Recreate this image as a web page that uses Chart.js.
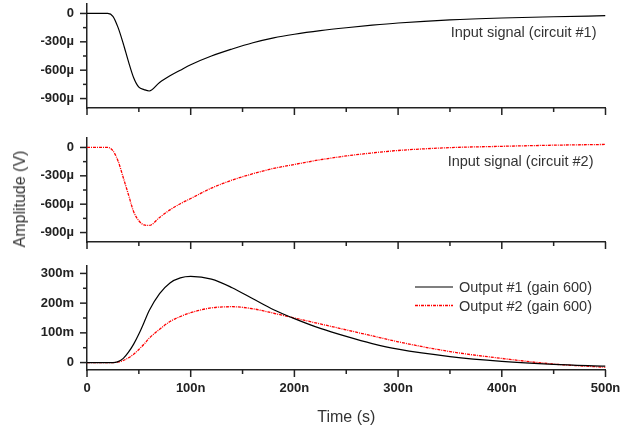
<!DOCTYPE html>
<html>
<head>
<meta charset="utf-8">
<script src="https://cdn.jsdelivr.net/npm/chart.js@4.4.1/dist/chart.umd.min.js"></script>
<style>
  html, body { margin: 0; padding: 0; background: #fff; }
  body { width: 620px; height: 428px; position: relative; overflow: hidden; font-family: 'Liberation Sans', Arial, sans-serif; }
  .panel { position: absolute; left: 0; width: 620px; }
  #p1 { top: 0; height: 120px; }
  #p2 { top: 134px; height: 120px; }
  #p3 { top: 262px; height: 166px; }
  #ylabel { position: absolute; left: 20px; top: 199px; transform: translate(-50%, -50%) rotate(-90deg); font-size: 16px; color: #333; white-space: nowrap; }
</style>
</head>
<body>
<div class="panel" id="p1"><canvas id="c1"></canvas></div>
<div class="panel" id="p2"><canvas id="c2"></canvas></div>
<div class="panel" id="p3"><canvas id="c3"></canvas></div>
<div id="ylabel">Amplitude (V)</div>
<script>
// time in ns, inputs in µV, outputs in mV
const timeNs  = [0, 10, 20, 25, 30, 35, 40, 45, 50, 55, 60, 70, 80, 90, 100, 120, 140, 160, 180, 200, 225, 250, 275, 300, 350, 400, 450, 500];
const input1  = [0, 0, 0, -30, -150, -320, -510, -680, -780, -805, -820, -730, -660, -600, -542, -450, -376, -310, -258, -220, -182, -151, -124, -101, -68, -48, -35, -24];
const input2  = [0, 0, 0, -35, -145, -320, -500, -680, -775, -820, -825, -740, -660, -595, -540, -430, -345, -278, -222, -180, -130, -90, -58, -32, -2, 12, 24, 32];
const output1 = [0, 0, 0, 0, 3, 14, 35, 62, 96, 135, 175, 232, 268, 285, 290, 281, 252, 215, 178, 148, 115, 88, 64, 45, 20, 4, -6, -12];
const output2 = [0, 0, 0, 0, 2, 7, 16, 28, 44, 62, 82, 112, 138, 155, 168, 184, 188, 181, 166, 150, 130, 110, 90, 70, 37, 14, -5, -16];

const timeTicks   = [0, 50, 100, 150, 200, 250, 300, 350, 400, 450, 500];
const inputTicks  = [-900, -750, -600, -450, -300, -150, 0];
const outputTicks = [0, 50, 100, 150, 200, 250, 300];

const FONT = "'Liberation Sans', Arial, sans-serif";
const INK = '#222';

function pts(ys) {
    return timeNs.map((t, i) => ({ x: t, y: ys[i] }));
}

function fmt(v, unit) {
    return v === 0 ? '0' : v + unit;
}

// tick marks: long for labelled ticks, short for the in-between ones
const tickMarks = {
    id: 'tickMarks',
    afterDraw(chart) {
        const ctx = chart.ctx;
        ctx.save();
        ctx.strokeStyle = INK;
        ctx.lineWidth = 1.5;
        Object.values(chart.scales).forEach(s => {
            s.ticks.forEach(t => {
                const len = t.major ? 7 : 4;
                const p = s.getPixelForValue(t.value);
                ctx.beginPath();
                if (s.isHorizontal()) {
                    ctx.moveTo(p, s.top);
                    ctx.lineTo(p, s.top + len);
                } else {
                    ctx.moveTo(s.right, p);
                    ctx.lineTo(s.right - len, p);
                }
                ctx.stroke();
            });
        });
        ctx.restore();
    }
};

const note = {
    id: 'note',
    afterDraw(chart, args, opts) {
        if (!opts.text) return;
        const ctx = chart.ctx, a = chart.chartArea;
        ctx.save();
        ctx.font = '14.5px ' + FONT;
        ctx.fillStyle = '#333';
        ctx.textAlign = 'right';
        ctx.textBaseline = 'middle';
        ctx.fillText(opts.text, a.right - opts.dx, a.top + opts.dy);
        ctx.restore();
    }
};

const lineLegend = {
    id: 'lineLegend',
    afterDraw(chart, args, opts) {
        if (!opts.show) return;
        const ctx = chart.ctx, a = chart.chartArea;
        ctx.save();
        ctx.font = '14.5px ' + FONT;
        ctx.fillStyle = '#333';
        ctx.textBaseline = 'middle';
        chart.data.datasets.forEach((ds, i) => {
            const y = a.top + opts.top + i * 18.5;
            const x0 = a.left + opts.left;
            ctx.beginPath();
            ctx.strokeStyle = ds.borderColor;
            ctx.lineWidth = ds.borderWidth;
            ctx.setLineDash(ds.borderDash || []);
            ctx.moveTo(x0, y);
            ctx.lineTo(x0 + 38, y);
            ctx.stroke();
            ctx.setLineDash([]);
            ctx.fillText(ds.label, x0 + 44, y + 1);
        });
        ctx.restore();
    }
};

function makeChart(id, datasets, cfg) {
    return new Chart(document.getElementById(id), {
        type: 'line',
        data: { datasets: datasets },
        options: {
            responsive: true,
            maintainAspectRatio: false,
            animation: false,
            layout: { padding: { top: 4, right: 14.5, left: 0, bottom: 0 } },
            elements: { point: { radius: 0 }, line: { cubicInterpolationMode: 'monotone' } },
            plugins: {
                legend: { display: false },
                tooltip: { enabled: false },
                note: cfg.note || {},
                lineLegend: cfg.legend || {}
            },
            scales: {
                x: {
                    type: 'linear',
                    min: 0,
                    max: 500,
                    afterBuildTicks: s => { s.ticks = timeTicks.map(v => ({ value: v, major: v % 100 === 0 })); },
                    afterFit: s => { s.height = cfg.xHeight; s.paddingLeft = 0; s.paddingRight = 0; },
                    grid: { display: false, drawTicks: false },
                    border: { display: true, color: INK, width: 1.5 },
                    ticks: {
                        display: cfg.xLabels,
                        autoSkip: false,
                        maxRotation: 0,
                        padding: 11,
                        color: INK,
                        font: { family: FONT, size: 13, weight: 'bold' },
                        callback: v => v % 100 === 0 ? fmt(v, 'n') : ''
                    },
                    title: {
                        display: cfg.xLabels,
                        text: 'Time (s)',
                        color: '#333',
                        font: { family: FONT, size: 16 },
                        padding: { top: 0, bottom: 1 }
                    }
                },
                y: {
                    min: cfg.yMin,
                    max: cfg.yMax,
                    afterBuildTicks: s => { s.ticks = cfg.yTicks.map(v => ({ value: v, major: v % cfg.yMajor === 0 })); },
                    afterFit: s => { s.width = 87; s.paddingTop = 0; s.paddingBottom = 0; },
                    grid: { display: false, drawTicks: false },
                    border: { display: true, color: INK, width: 1.5 },
                    ticks: {
                        autoSkip: false,
                        padding: 13,
                        color: INK,
                        font: { family: FONT, size: 13, weight: 'bold' },
                        callback: v => v % cfg.yMajor === 0 ? fmt(v, cfg.unit) : ''
                    }
                }
            }
        },
        plugins: [tickMarks, note, lineLegend]
    });
}

const redDash = [3, 1, 1, 1];

makeChart('c1', [
    { label: 'Input signal (circuit #1)', data: pts(input1), borderColor: '#000', borderWidth: 1.2 }
], { xHeight: 12, xLabels: false, yMin: -1000, yMax: 100, yTicks: inputTicks, yMajor: 300, unit: 'µ',
     note: { text: 'Input signal (circuit #1)', dx: 9, dy: 29 } });

makeChart('c2', [
    { label: 'Input signal (circuit #2)', data: pts(input2), borderColor: '#ff0000', borderWidth: 1.3, borderDash: redDash }
], { xHeight: 12, xLabels: false, yMin: -1000, yMax: 100, yTicks: inputTicks, yMajor: 300, unit: 'µ',
     note: { text: 'Input signal (circuit #2)', dx: 12, dy: 23.5 } });

makeChart('c3', [
    { label: 'Output #1 (gain 600)', data: pts(output1), borderColor: '#000', borderWidth: 1.2 },
    { label: 'Output #2 (gain 600)', data: pts(output2), borderColor: '#ff0000', borderWidth: 1.3, borderDash: redDash }
], { xHeight: 58, xLabels: true, yMin: -25, yMax: 325, yTicks: outputTicks, yMajor: 100, unit: 'm',
     legend: { show: true, left: 328, top: 21 } });
</script>
</body>
</html>
